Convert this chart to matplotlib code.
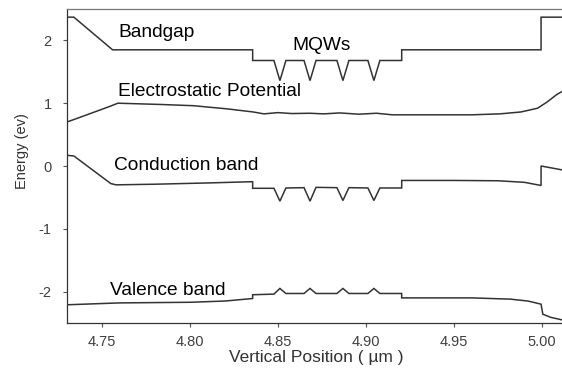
import matplotlib
matplotlib.use("Agg")
import matplotlib.pyplot as plt

plt.rcParams['font.family'] = ['Liberation Sans', 'DejaVu Sans']

# ---- data ----
bandgap_x = [4.730, 4.734, 4.756, 4.8356, 4.8356, 4.8477, 4.8511, 4.8545, 4.8648, 4.8682,
             4.8716, 4.8835, 4.8869, 4.8903, 4.9011, 4.9045, 4.9079, 4.9203, 4.9203,
             4.9995, 4.9995, 5.013]
bandgap_y = [2.37, 2.37, 1.85, 1.85, 1.68, 1.68, 1.36, 1.68, 1.68, 1.36,
             1.68, 1.68, 1.36, 1.68, 1.68, 1.36, 1.68, 1.68, 1.85,
             1.85, 2.37, 2.37]

potential_x = [4.730, 4.736, 4.7545, 4.759, 4.783, 4.802, 4.821, 4.836, 4.842, 4.850,
               4.858, 4.868, 4.876, 4.885, 4.896, 4.906, 4.915, 4.940, 4.960, 4.976,
               4.988, 4.9975, 5.003, 5.0085, 5.013]
potential_y = [0.70, 0.76, 0.95, 1.00, 0.98, 0.96, 0.91, 0.86, 0.83, 0.85,
               0.835, 0.84, 0.83, 0.845, 0.825, 0.84, 0.815, 0.815, 0.815, 0.83,
               0.86, 0.92, 1.02, 1.14, 1.21]

conduction_x = [4.730, 4.734, 4.755, 4.758, 4.780, 4.810, 4.8356, 4.8356, 4.8477, 4.8511,
                4.8545, 4.8648, 4.8682, 4.8716, 4.8835, 4.8869, 4.8903, 4.9011, 4.9045,
                4.9079, 4.9203, 4.9203, 4.950, 4.975, 4.990, 4.9995, 4.9995, 5.013]
conduction_y = [0.17, 0.16, -0.28, -0.30, -0.29, -0.27, -0.25, -0.355, -0.355, -0.56,
                -0.35, -0.345, -0.56, -0.34, -0.345, -0.55, -0.345, -0.35, -0.55,
                -0.35, -0.35, -0.23, -0.23, -0.235, -0.26, -0.31, 0.00, -0.07]

valence_x = [4.730, 4.760, 4.800, 4.820, 4.8356, 4.8356, 4.8477, 4.8511, 4.8545, 4.8648,
             4.8682, 4.8716, 4.8835, 4.8869, 4.8903, 4.9011, 4.9045, 4.9079, 4.9203,
             4.9203, 4.960, 4.982, 4.992, 4.9995, 5.0005, 5.005, 5.013]
valence_y = [-2.21, -2.18, -2.17, -2.15, -2.11, -2.05, -2.04, -1.95, -2.03, -2.03,
             -1.95, -2.03, -2.03, -1.95, -2.03, -2.03, -1.95, -2.03, -2.03,
             -2.10, -2.10, -2.12, -2.15, -2.20, -2.36, -2.41, -2.46]

x_ticks = [4.75, 4.80, 4.85, 4.90, 4.95, 5.00]
x_ticklabels = ["4.75", "4.80", "4.85", "4.90", "4.95", "5.00"]
y_ticks = [-2, -1, 0, 1, 2]
y_ticklabels = ["-2", "-1", "0", "1", "2"]

labels = ["Bandgap", "MQWs", "Electrostatic Potential", "Conduction band", "Valence band"]

# ---- figure ----
W, H = 562, 376
fig = plt.figure(figsize=(W / 100, H / 100), dpi=100)
ax = fig.add_axes([67 / W, (H - 323) / H, (W - 67) / W, (323 - 9) / H])

lc = '#333333'
for xs, ys in [(bandgap_x, bandgap_y), (potential_x, potential_y),
               (conduction_x, conduction_y), (valence_x, valence_y)]:
    ax.plot(xs, ys, color=lc, lw=1.1, solid_joinstyle='miter')

ax.set_xlim(4.7301, 5.0114)
ax.set_ylim(-2.5, 2.5)
ax.set_xticks(x_ticks)
ax.set_xticklabels(x_ticklabels)
ax.set_yticks(y_ticks)
ax.set_yticklabels(y_ticklabels)
ax.tick_params(axis='both', direction='out', length=3, width=0.8, color='#555555',
               labelcolor='#404040', labelsize=10.5)
ax.tick_params(axis='y', pad=8)
ax.tick_params(axis='x', pad=6)

ax.spines['right'].set_visible(False)
ax.spines['left'].set_color('#333333')
ax.spines['bottom'].set_color('#333333')
ax.spines['top'].set_color('#777777')
for s in ['left', 'bottom', 'top']:
    ax.spines[s].set_linewidth(0.9)

fs = 13.8
ax.text(4.7591, 2.048, labels[0], fontsize=fs, ha='left', va='baseline', color='black')
ax.text(4.858, 1.84, labels[1], fontsize=fs, ha='left', va='baseline', color='black')
ax.text(4.759, 1.107, labels[2], fontsize=fs, ha='left', va='baseline', color='black')
ax.text(4.7568, -0.07, labels[3], fontsize=fs, ha='left', va='baseline', color='black')
ax.text(4.7545, -2.05, labels[4], fontsize=fs, ha='left', va='baseline', color='black')

fig.text(22 / W, 1 - 151 / H, "Energy (ev)", rotation=90, ha='center', va='center',
         fontsize=10.5, color='#333333')
fig.text(316 / W, 1 - 362 / H, "Vertical Position ( µm )", ha='center', va='baseline',
         fontsize=12.5, color='#333333')

fig.savefig("out.png", dpi=100)
